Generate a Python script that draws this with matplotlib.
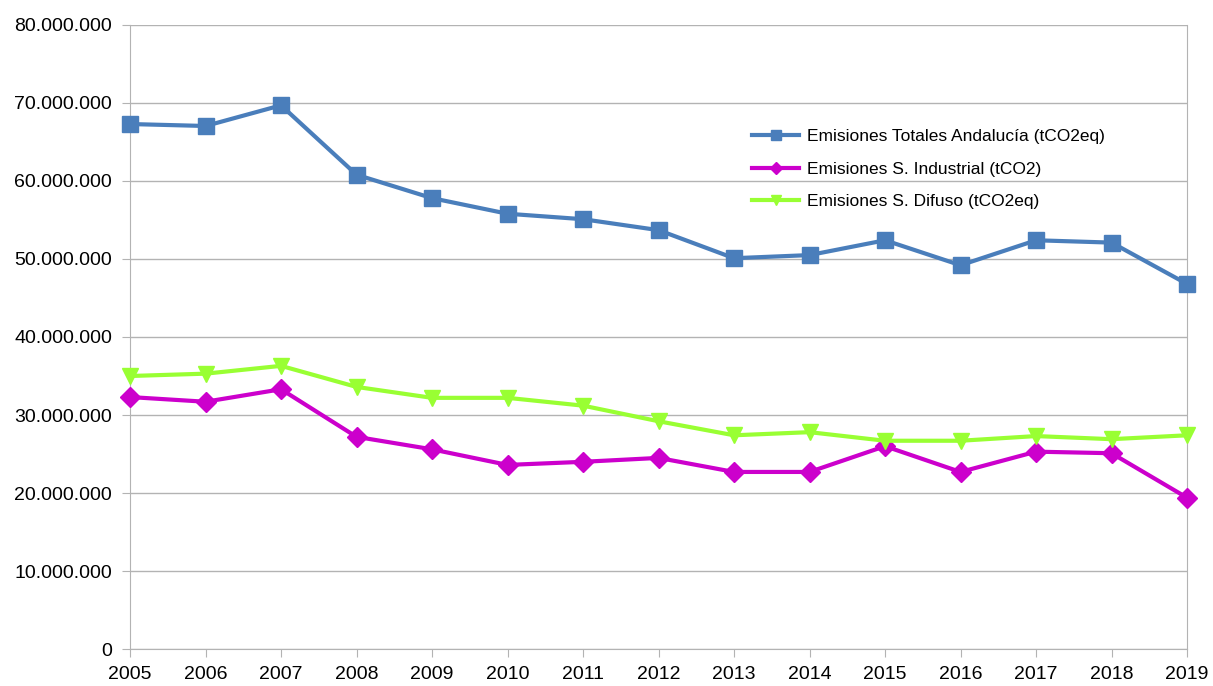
import matplotlib.pyplot as plt
from matplotlib.ticker import FuncFormatter

plt.rcParams['font.family'] = ['Liberation Sans', 'DejaVu Sans']

# Data
years = list(range(2005, 2020))
total = [67.3, 67.05, 69.7, 60.8, 57.8, 55.8, 55.1, 53.7, 50.1, 50.5, 52.4, 49.2, 52.4, 52.1, 46.8]
industrial = [32.3, 31.7, 33.3, 27.2, 25.6, 23.6, 24.0, 24.5, 22.7, 22.7, 26.0, 22.7, 25.3, 25.1, 19.4]
difuso = [35.0, 35.3, 36.3, 33.6, 32.2, 32.2, 31.2, 29.2, 27.4, 27.8, 26.7, 26.7, 27.3, 26.9, 27.4]

labels = ['Emisiones Totales Andalucía (tCO2eq)',
          'Emisiones S. Industrial (tCO2)',
          'Emisiones S. Difuso (tCO2eq)']

fig = plt.figure(figsize=(12.13, 6.86), dpi=100)
ax = fig.add_axes([0.1072, 0.0539, 0.8714, 0.9097])

ax.plot(years, [v * 1e6 for v in total], color='#4A7EBB', linewidth=3, marker='s',
        markersize=12, label=labels[0], zorder=3, clip_on=False)
ax.plot(years, [v * 1e6 for v in industrial], color='#CC00CC', linewidth=3, marker='D',
        markersize=10, label=labels[1], zorder=3, clip_on=False)
ax.plot(years, [v * 1e6 for v in difuso], color='#99FF33', linewidth=3, marker='v',
        markersize=11, label=labels[2], zorder=3, clip_on=False)

ax.set_xlim(2005, 2019)
ax.set_ylim(0, 80e6)
ax.set_xticks(years)
ax.set_yticks([i * 10e6 for i in range(9)])
ax.yaxis.set_major_formatter(FuncFormatter(lambda v, p: '{:,.0f}'.format(v).replace(',', '.')))

ax.grid(True, axis='y', color='#B3B3B3', linewidth=1)
ax.set_axisbelow(True)
for side in ['left', 'right', 'bottom']:
    ax.spines[side].set_color('#B3B3B3')
ax.spines['top'].set_visible(False)
ax.tick_params(axis='x', direction='out', length=6, color='#B3B3B3', labelsize=14, pad=6)
ax.tick_params(axis='y', direction='out', length=6, color='#B3B3B3', labelsize=14, pad=7)

ax.legend(loc='center left', bbox_to_anchor=(0.588, 0.769), frameon=False, fontsize=12.5,
          handlelength=2.76, handletextpad=0.46, labelspacing=1.0, borderpad=0,
          borderaxespad=0, markerscale=0.6)

plt.savefig('out.png', dpi=100)
